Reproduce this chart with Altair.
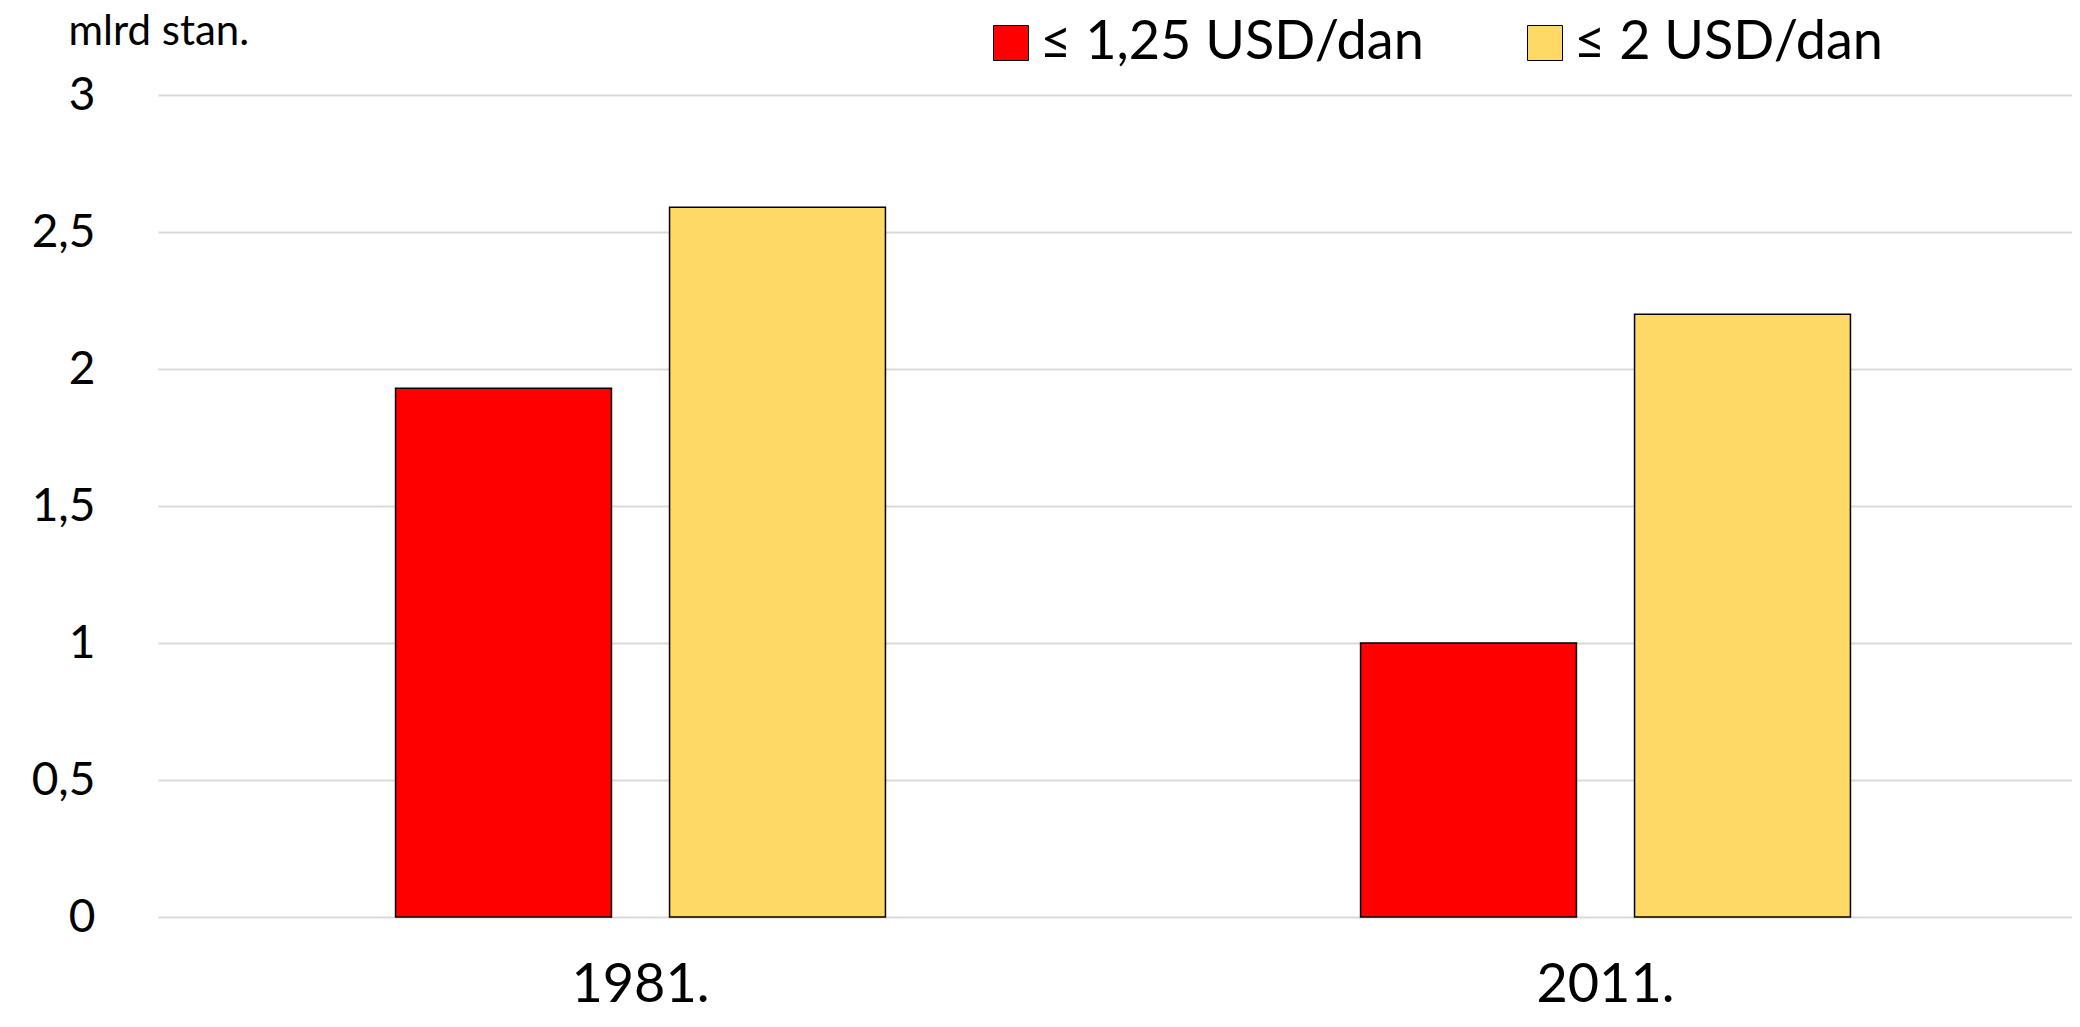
import altair as alt
import pandas as pd

years = ["1981.", "2011."]
series = ["≤ 1,25 USD/dan", "≤ 2 USD/dan"]
values_125 = [1.93, 1.00]
values_2 = [2.59, 2.20]
colors = ["#FF0000", "#FFD966"]
y_ticks = [0, 0.5, 1, 1.5, 2, 2.5, 3]

rows = []
for i, yr in enumerate(years):
    rows.append({"year": yr, "series": series[0], "value": values_125[i]})
    rows.append({"year": yr, "series": series[1], "value": values_2[i]})
df = pd.DataFrame(rows)

FONT = "Lato"

chart = alt.Chart(df).mark_bar(stroke="black", strokeWidth=1.5).encode(
    x=alt.X("year:N", sort=years,
            scale=alt.Scale(paddingInner=0, paddingOuter=0, range=[0, 1930]),
            axis=alt.Axis(title=None, labelAngle=0, labelFont=FONT, labelFontSize=54,
                          labelColor="black", labelPadding=41, ticks=False, domain=False,
                          grid=False)),
    xOffset=alt.XOffset("series:N", sort=series,
                        scale=alt.Scale(paddingInner=0.212, paddingOuter=0.867)),
    y=alt.Y("value:Q",
            scale=alt.Scale(domain=[0, 3], nice=False),
            axis=alt.Axis(values=y_ticks, title="mlrd stan.", titleAngle=0, titleAlign="left",
                          titleBaseline="alphabetic", titleX=-90, titleY=-51,
                          titleFont=FONT, titleFontSize=42, titleFontWeight="normal",
                          titleColor="black",
                          labelExpr="replace(toString(datum.value), '.', ',')",
                          labelFont=FONT, labelFontSize=46, labelColor="black",
                          labelPadding=63, ticks=False, domain=False,
                          gridColor="#D9D9D9", gridWidth=2)),
    fill=alt.Fill("series:N", sort=series,
                  scale=alt.Scale(domain=series, range=colors),
                  legend=alt.Legend(title=None, orient="none", direction="horizontal",
                                    legendX=826, legendY=-79,
                                    symbolType="square", symbolSize=1225,
                                    symbolStrokeColor="black", symbolStrokeWidth=1,
                                    labelFont=FONT, labelFontSize=54, labelColor="black",
                                    labelOffset=2, labelLimit=800, columnPadding=94,
                                    padding=0)),
).properties(
    width=1914,
    height=822,
    autosize=alt.AutoSizeParams(type="none"),
    padding={"left": 150, "top": 87, "right": 0, "bottom": 101},
).configure_view(stroke=None)

chart.save("out.html", embed_options={"renderer": "svg", "actions": False})
